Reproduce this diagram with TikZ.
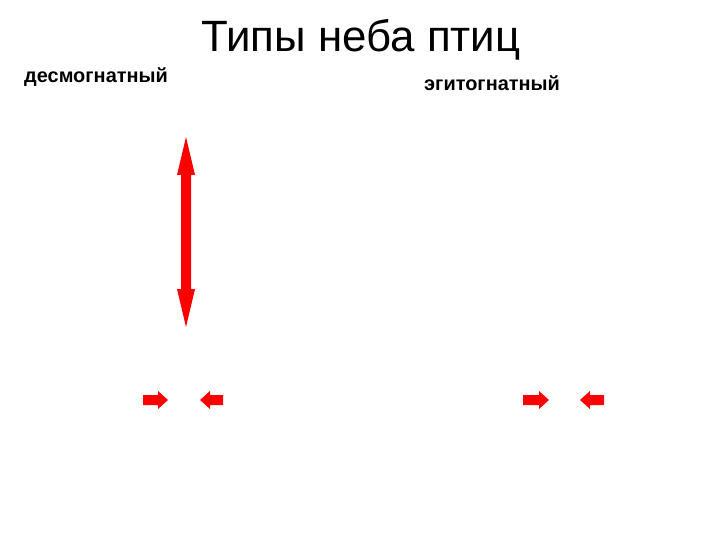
\documentclass[tikz,border=0pt]{standalone}
\usepackage{fontspec}
\setmainfont{Liberation Sans}
\definecolor{arrowred}{RGB}{255, 0, 0}
\tikzstyle{heading} = [
  inner sep=0pt,
  font=\fontsize{44}{44}\selectfont,
]
\tikzstyle{kind} = [
  inner sep=0pt,
  anchor=base west,
  font=\fontsize{20}{20}\selectfont\bfseries,
]

\begin{document}
\begin{tikzpicture}[x=1bp, y=-1bp]
            \useasboundingbox (0,0) rectangle (720,540);
            \def\shaft{5}
            \def\head{9}

            % Labels
            \node[heading] (title) at (361,40) {Типы неба птиц};
            \node[kind] (desmo) at (24,83) {десмогнатный};
            \node[kind] (egito) at (424,91) {эгитогнатный};

            % Long double arrow
            \fill[arrowred] (186,137) -- ++(\head,38) -- ++(-\head+\shaft,0)
                -- (186+\shaft,289) -- ++(\head-\shaft,0) -- (186,327)
                -- ++(-\head,-38) -- ++(\head-\shaft,0) -- (186-\shaft,175)
                -- ++(-\head+\shaft,0) -- cycle;

            % Short arrows, pushing together
            \foreach \tail/\tip in {143/168, 223/200, 523/549, 604/580} {
                \pgfmathsetmacro\neck{\tip - 10*sign(\tip-\tail)}
                \fill[arrowred] (\tail,400-\shaft) -- (\neck,400-\shaft)
                    -- (\neck,400-\head) -- (\tip,400) -- (\neck,400+\head)
                    -- (\neck,400+\shaft) -- (\tail,400+\shaft) -- cycle;
            }
          \end{tikzpicture}
\end{document}
